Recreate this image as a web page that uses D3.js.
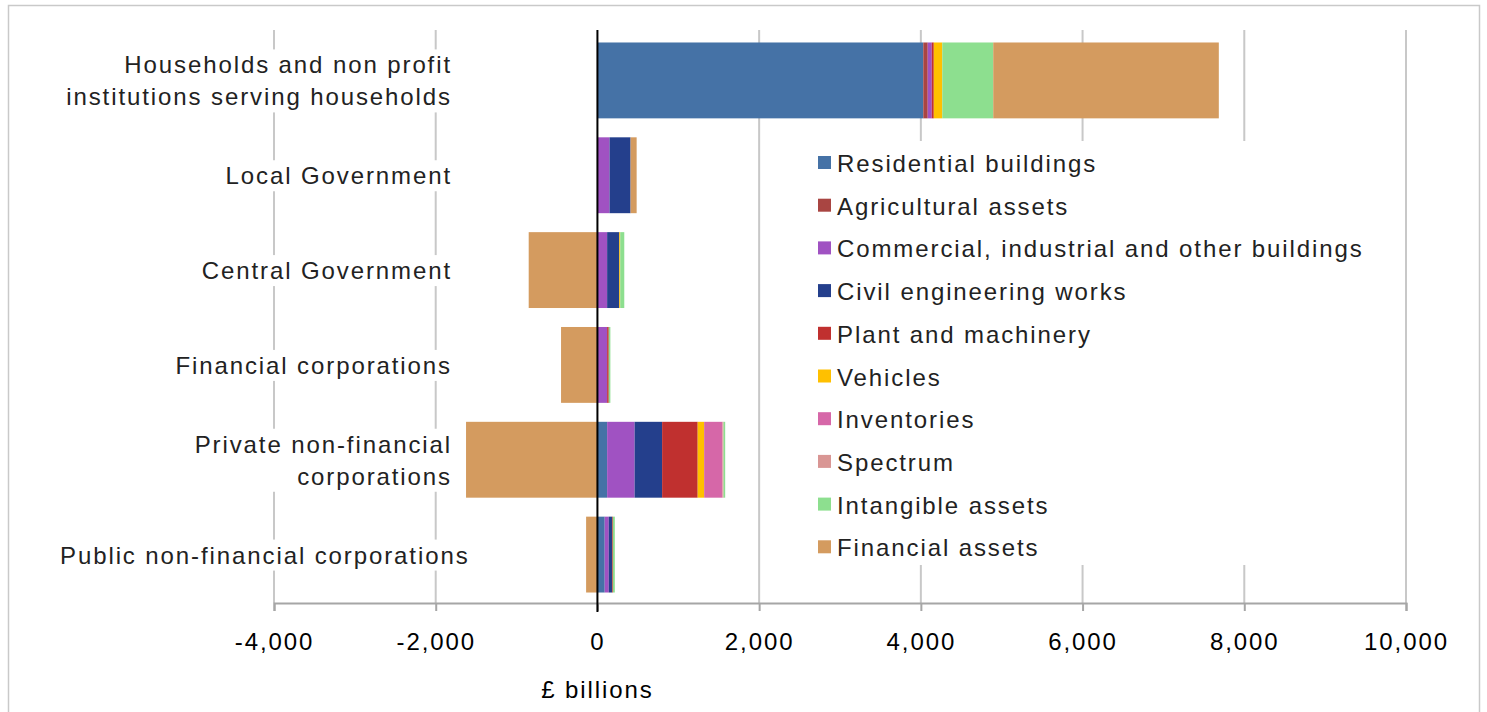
<!DOCTYPE html>
<html>
<head>
<meta charset="utf-8">
<script src="https://cdn.jsdelivr.net/npm/d3@7"></script>
<style>
  body { margin: 0; background: #fff; }
  svg { display: block; font-family: "Liberation Sans", Arial, sans-serif; }
</style>
</head>
<body>
<div id="app"></div>
<script>
// categories, top to bottom
var categories = [
  ["Households and non profit", "institutions serving households"],
  ["Local Government"],
  ["Central Government"],
  ["Financial corporations"],
  ["Private non-financial", "corporations"],
  ["Public non-financial corporations"]
];

var seriesNames = [
  "Residential buildings",
  "Agricultural assets",
  "Commercial, industrial and other buildings",
  "Civil engineering works",
  "Plant and machinery",
  "Vehicles",
  "Inventories",
  "Spectrum",
  "Intangible assets",
  "Financial assets"
];

var colors = ["#4572a6", "#a94542", "#a052c2", "#243f8c", "#c0302f",
              "#ffc000", "#d667a8", "#d99694", "#8ddf8f", "#d49b5f"];

// £ billions, one value per category
var residential  = [4030,   0,    0,    0,   120,   90];
var agricultural = [  55,   0,    0,    0,     0,    0];
var commercial   = [  50, 150,  120,  120,   340,   50];
var civil        = [   0, 260,  150,    0,   340,   40];
var plant        = [  25,   0,    0,   20,   440,   10];
var vehicles     = [ 105,   0,   12,    0,    80,    0];
var inventories  = [   0,   0,    0,    0,   225,    0];
var spectrum     = [   0,   0,    0,    0,    15,    0];
var intangible   = [ 630,   0,   50,   20,    20,   25];
var financial    = [2790,  75, -850, -450, -1625, -140];

var xTicks = [-4000, -2000, 0, 2000, 4000, 6000, 8000, 10000];

var allSeries = [residential, agricultural, commercial, civil, plant,
                 vehicles, inventories, spectrum, intangible, financial];

var rows = categories.map(function (c, i) {
  var r = { key: i };
  seriesNames.forEach(function (s, j) { r[s] = allSeries[j][i]; });
  return r;
});

var W = 1487, H = 712;
var LS = "1.9px";
var svg = d3.select("#app").append("svg").attr("width", W).attr("height", H);

// outer frame
svg.append("rect").attr("x", 8.5).attr("y", 5.5).attr("width", 1471).attr("height", 730)
  .attr("fill", "#fff").attr("stroke", "#c9c9c9").attr("stroke-width", 1.5);

var x = d3.scaleLinear().domain([-4000, 10000]).range([274, 1406]);
var y = d3.scaleBand().domain(d3.range(categories.length)).range([33, 602])
  .paddingInner(0.2).paddingOuter(0.1);

var gridTop = 30, axisY = 603;

// gridlines
svg.append("g").selectAll("line").data(xTicks.filter(function (t) { return t !== 0; }))
  .enter().append("line")
  .attr("x1", function (d) { return x(d); }).attr("x2", function (d) { return x(d); })
  .attr("y1", gridTop).attr("y2", axisY)
  .attr("stroke", "#c8c8c8").attr("stroke-width", 2);

// bars
var stack = d3.stack().keys(seriesNames).offset(d3.stackOffsetDiverging);
var stacked = stack(rows);

svg.append("g").selectAll("g").data(stacked).enter().append("g")
  .attr("fill", function (d, i) { return colors[i]; })
  .selectAll("rect").data(function (d) { return d; }).enter().append("rect")
  .attr("x", function (d) { return x(Math.min(d[0], d[1])); })
  .attr("width", function (d) { return Math.abs(x(d[1]) - x(d[0])); })
  .attr("y", function (d) { return y(d.data.key); })
  .attr("height", y.bandwidth());

// value axis
var fmt = d3.format(",");
var axis = svg.append("g").attr("transform", "translate(0," + axisY + ")")
  .call(d3.axisBottom(x).tickValues(xTicks)
    .tickFormat(function (d) { return fmt(d).replace("\u2212", "-"); })
    .tickSize(8).tickPadding(22));
axis.select(".domain").attr("stroke", "#a6a6a6").attr("stroke-width", 2);
axis.selectAll(".tick line").attr("stroke", "#a6a6a6").attr("stroke-width", 2);
axis.selectAll(".tick text").attr("fill", "#000").attr("font-size", 24)
  .attr("letter-spacing", LS).attr("font-family", "Liberation Sans, Arial, sans-serif");

svg.append("text").attr("x", x(0)).attr("y", 698).attr("text-anchor", "middle")
  .attr("font-size", 24).attr("letter-spacing", LS).text("£ billions");

// zero line
svg.append("line").attr("x1", x(0)).attr("x2", x(0)).attr("y1", gridTop).attr("y2", 612)
  .attr("stroke", "#000").attr("stroke-width", 2);

// category labels with white backing
var labelG = svg.append("g");
categories.forEach(function (lines, i) {
  var g = labelG.append("g");
  var cy = y(i) + y.bandwidth() / 2;
  var lh = 32;
  var t = g.append("text").attr("text-anchor", "end").attr("font-size", 24)
    .attr("letter-spacing", LS).attr("fill", "#222");
  lines.forEach(function (l, k) {
    t.append("tspan").attr("x", 452)
      .attr("y", cy + (k - (lines.length - 1) / 2) * lh + 9).text(l);
  });
  var bb = t.node().getBBox();
  if (bb.x < 60) {
    t.attr("transform", "translate(" + (60 - bb.x) + ",0)");
    bb = t.node().getBBox();
    bb.x += 60 - bb.x;
  }
  g.insert("rect", "text").attr("x", bb.x - 4).attr("y", bb.y - 2)
    .attr("width", bb.width + 8).attr("height", bb.height + 4).attr("fill", "#fff");
});

// legend
var legX = 818, legY0 = 163, legStep = 42.7;
var leg = svg.append("g");
leg.append("rect").attr("x", 806).attr("y", 141).attr("width", 568).attr("height", 424).attr("fill", "#fff");
seriesNames.forEach(function (s, i) {
  var yy = legY0 + i * legStep;
  leg.append("rect").attr("x", legX).attr("y", yy - 7).attr("width", 13).attr("height", 13)
    .attr("fill", colors[i]);
  leg.append("text").attr("x", legX + 19).attr("y", yy + 9).attr("font-size", 24)
    .attr("letter-spacing", LS).attr("fill", "#222").text(s);
});
</script>
</body>
</html>
